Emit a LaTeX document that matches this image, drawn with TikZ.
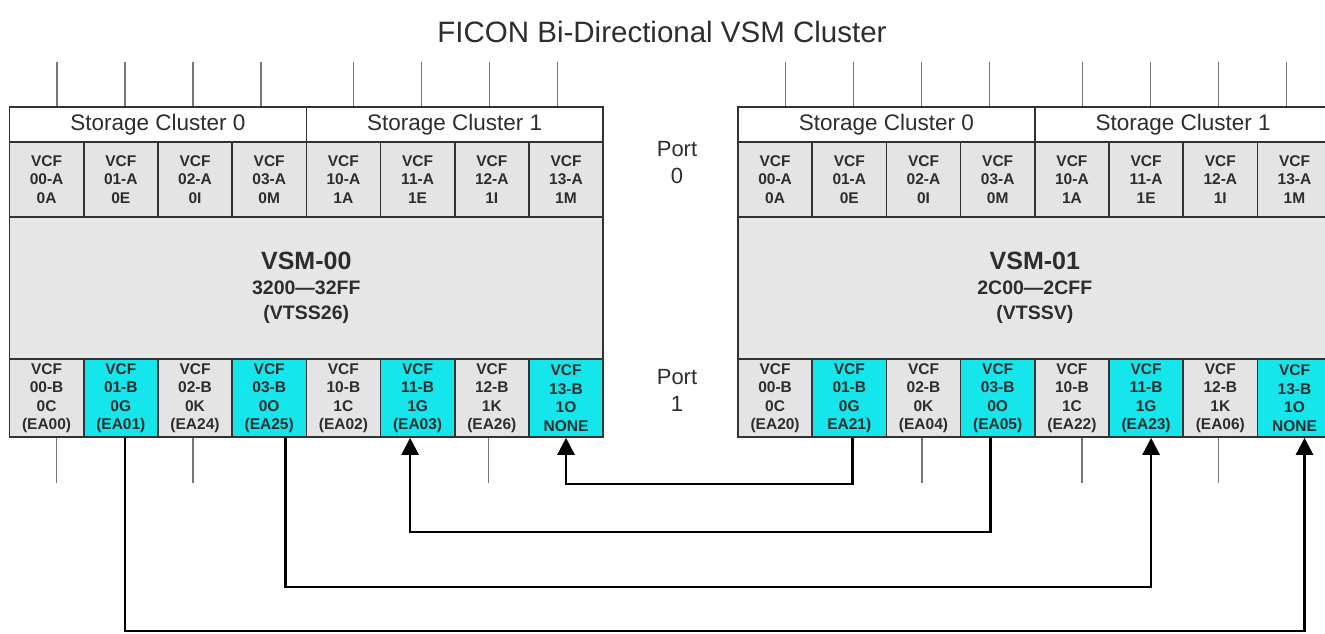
\documentclass[tikz,border=0pt]{standalone}
\usepackage{fontspec}
\setmainfont{Liberation Sans}
\usetikzlibrary{arrows.meta}
\definecolor{cellgray}{RGB}{228,228,228}
\definecolor{midgray}{RGB}{230,230,230}
\definecolor{vcyan}{RGB}{20,230,235}
\definecolor{bord}{RGB}{50,50,50}
\definecolor{tickc}{RGB}{120,120,120}
\definecolor{txt}{RGB}{45,45,45}
\begin{document}
\begin{tikzpicture}[x=1pt,y=-1pt,
  cell/.style={draw=bord,line width=1.6pt,minimum width=74.2pt,inner sep=0pt,text=txt,
    font=\fontsize{15.5}{18.5}\selectfont\bfseries,align=center},
  topcell/.style={cell,fill=cellgray,minimum height=75pt},
  botcell/.style={cell,minimum height=78pt},
  scbox/.style={draw=bord,line width=1.6pt,fill=white,minimum width=296.8pt,minimum height=35pt,
    inner sep=0pt,text=txt,font=\fontsize{22.5}{24}\selectfont},
  vsmbox/.style={draw=bord,line width=1.6pt,fill=midgray,minimum width=593.6pt,minimum height=142pt,
    inner sep=0pt,text=txt,align=center,font=\fontsize{19.5}{25}\selectfont\bfseries},
  tick/.style={draw=tickc,line width=1.3pt},
  conn/.style={draw=black,line width=2.6pt},
  arr/.style={conn,-{Triangle[width=17pt,length=17pt]}},
  port/.style={text=txt,align=center,font=\fontsize{22}{27}\selectfont}]
\useasboundingbox (0,0) rectangle (1325,633);
\clip (0,0) rectangle (1325,633);

\node[text=txt,font=\fontsize{29.5}{30}\selectfont] (title) at (662,32) {FICON Bi-Directional VSM Cluster};

% VSM bodies
\node[vsmbox] (L-VSM) at (306.3,288) {{\fontsize{25}{25}\selectfont VSM-00}\\3200—32FF\\(VTSS26)};
\node[vsmbox] (R-VSM) at (1034.8,288) {{\fontsize{25}{25}\selectfont VSM-01}\\2C00—2CFF\\(VTSSV)};

\foreach \s/\xo in {L/9.5,R/738}{
  \node[scbox] (\s-SC0) at ({\xo+148.4},124.5) {Storage Cluster 0};
  \node[scbox] (\s-SC1) at ({\xo+445.2},124.5) {Storage Cluster 1};
  \foreach \i/\n/\p in {0/00/0A,1/01/0E,2/02/0I,3/03/0M,4/10/1A,5/11/1E,6/12/1I,7/13/1M}{
    \node[topcell] (\s-A\i) at ({\xo+(\i+0.5)*74.2},179.5) {VCF\\\n-A\\\p};
  }
  \foreach \k in {0,1}{
    \foreach \d in {-101,-33,35,103}{
      \draw[tick] ([xshift=\d pt]\s-SC\k.north) -- ++(0,-44);
    }
  }
}

\foreach \i/\n/\p/\e/\f in {0/00/0C/{(EA00)}/cellgray,1/01/0G/{(EA01)}/vcyan,2/02/0K/{(EA24)}/cellgray,
  3/03/0O/{(EA25)}/vcyan,4/10/1C/{(EA02)}/cellgray,5/11/1G/{(EA03)}/vcyan,6/12/1K/{(EA26)}/cellgray,7/13/1O/NONE/vcyan}{
  \node[botcell,fill=\f] (L-B\i) at ({9.5+(\i+0.5)*74.2},398) {VCF\\\n-B\\\p\\\e};
}
\foreach \i/\n/\p/\e/\f in {0/00/0C/{(EA20)}/cellgray,1/01/0G/{EA21)}/vcyan,2/02/0K/{(EA04)}/cellgray,
  3/03/0O/{(EA05)}/vcyan,4/10/1C/{(EA22)}/cellgray,5/11/1G/{(EA23)}/vcyan,6/12/1K/{(EA06)}/cellgray,7/13/1O/NONE/vcyan}{
  \node[botcell,fill=\f] (R-B\i) at ({738+(\i+0.5)*74.2},398) {VCF\\\n-B\\\p\\\e};
}

% port labels
\node[port] (port0) at (677,163) {Port\\0};
\node[port] (port1) at (677,390) {Port\\1};

% bottom stubs
\draw[tick] ([xshift=10pt]L-B0.south) -- ++(0,45);
\draw[tick] ([xshift=-2pt]L-B2.south) -- ++(0,45);
\draw[tick] ([xshift=-3pt]L-B6.south) -- ++(0,45);
\draw[tick] ([xshift=-1.5pt]R-B2.south) -- ++(0,45);
\draw[tick] ([xshift=10pt]R-B4.south) -- ++(0,45);
\draw[tick] ([xshift=-2pt]R-B6.south) -- ++(0,45);

% connectors
\draw[arr] ([xshift=3pt]R-B1.south) -- ++(0,46) -| (L-B7.south);
\draw[arr] ([xshift=-7pt]R-B3.south) -- ++(0,94) -| ([xshift=-7.5pt]L-B5.south);
\draw[arr] ([xshift=16pt]L-B3.south) -- ++(0,149) -| ([xshift=5pt]R-B5.south);
\draw[arr] ([xshift=4pt]L-B1.south) -- ++(0,193) -| ([xshift=10pt]R-B7.south);
\end{tikzpicture}
\end{document}
